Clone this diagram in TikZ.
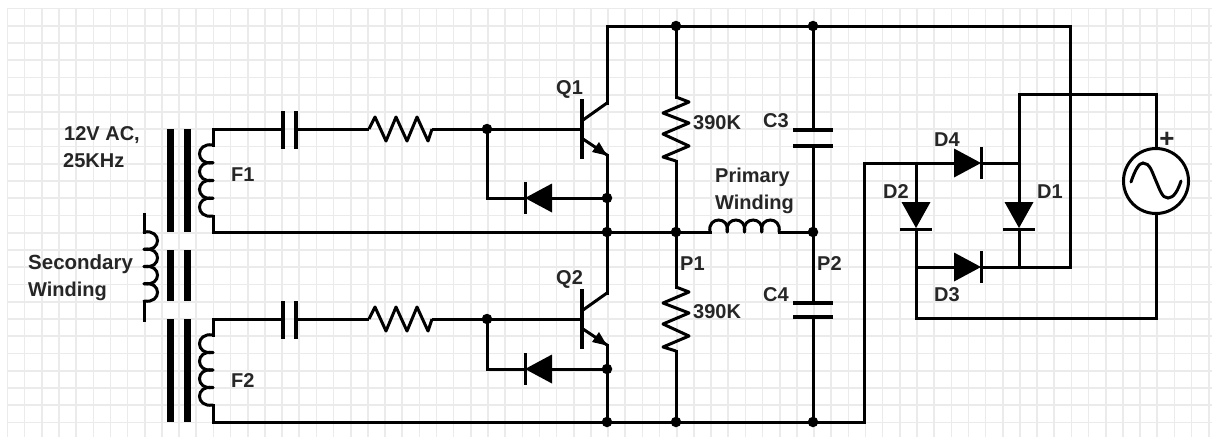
\documentclass[tikz,border=0pt]{standalone}
\usepackage{fontspec}
\setmainfont{Liberation Sans}
\begin{document}
\begin{tikzpicture}[x=1pt,y=-1pt,
  wire/.style={line width=3pt,line join=miter,line cap=rect,black},
  zig/.style={line width=3pt,line join=round,black},
  coilline/.style={line width=3pt,line cap=round,black},
  plate/.style={line width=3.2pt,black},
  core/.style={fill=black,draw=none},
  dot/.style={circle,fill=black,inner sep=0pt,minimum size=10.5pt,outer sep=0pt},
  gridline/.style={draw=black!8,line width=1.6pt},
  lab/.style={anchor=base west,inner sep=0pt,font=\fontsize{20}{20}\selectfont\bfseries,text=black!85},
  blab/.style={lab},
  sourcec/.style={circle,draw=black,line width=3pt,fill=white,inner sep=0pt,outer sep=0pt,minimum size=65pt}
]
\newcommand{\coilV}[4]{% x, y0, pitch, bulge
  \foreach \i in {0,1,2,3}
    \draw[coilline] ({#1},{#2+\i*#3}) .. controls ({#1+#4},{#2+\i*#3-3}) and ({#1+#4},{#2+(\i+1)*#3+3}) .. ({#1},{#2+(\i+1)*#3});}
\newcommand{\coilH}[4]{% x0, y, pitch, bulge
  \foreach \i in {0,1,2,3}
    \draw[coilline] ({#1+\i*#3},{#2}) .. controls ({#1+\i*#3-3},{#2+#4}) and ({#1+(\i+1)*#3+3},{#2+#4}) .. ({#1+(\i+1)*#3},{#2});}
\newcommand{\zigH}[2]{% x0,y
  \draw[zig] ({#1},{#2}) -- ({#1+6},{#2-12}) -- ({#1+17},{#2+12}) -- ({#1+27},{#2-12}) -- ({#1+38},{#2+12}) -- ({#1+48},{#2-12}) -- ({#1+59},{#2+12}) -- ({#1+63},{#2});}
\newcommand{\zigV}[2]{% x,y0
  \draw[zig] ({#1},{#2}) -- ({#1+13},{#2+5}) -- ({#1-13},{#2+16}) -- ({#1+13},{#2+26}) -- ({#1-13},{#2+37}) -- ({#1+13},{#2+49}) -- ({#1-13},{#2+60}) -- ({#1},{#2+64});}
\newcommand{\npn}[2]{% name, yoff
  \coordinate (#1b) at (582,{129+#2});
  \coordinate (#1c) at (607,{103+#2});
  \coordinate (#1e) at (607,{155+#2});
  \draw[plate] (582,{99+#2}) -- (582,{159+#2});
  \draw[wire,line cap=butt] (583,{120+#2}) -- (#1c);
  \draw[wire,line cap=butt] (583,{139+#2}) -- (#1e);
  \fill (607,{155.5+#2}) -- (599,{142+#2}) -- (592,{152+#2}) -- cycle;}
\newcommand{\diodeR}[2]{% base x, y : triangle pointing right
  \fill ({#1},{#2-14.5}) -- ({#1+27},{#2}) -- ({#1},{#2+14.5}) -- cycle;
  \draw[plate,line width=3pt] ({#1+27},{#2-16}) -- ({#1+27},{#2+16});}
\newcommand{\diodeL}[2]{% base x, y : triangle pointing left, bar left
  \fill ({#1},{#2-14.5}) -- ({#1-27},{#2}) -- ({#1},{#2+14.5}) -- cycle;
  \draw[plate,line width=3pt] ({#1-27},{#2-16}) -- ({#1-27},{#2+16});}
\newcommand{\diodeD}[2]{% x, base y : triangle pointing down
  \fill ({#1-14.5},{#2}) -- ({#1},{#2+26}) -- ({#1+14.5},{#2}) -- cycle;
  \draw[plate,line width=3pt] ({#1-16},{#2+27}) -- ({#1+16},{#2+27});}
\useasboundingbox (0,0) rectangle (1212,437);
\fill[white] (0,0) rectangle (1212,437);
% grid
\foreach \k in {0,...,70} \draw[gridline] ({7.5+\k*17.16},8) -- ({7.5+\k*17.16},437);
\foreach \k in {0,...,24} \draw[gridline] (7,{8.5+\k*17.25}) -- (1212,{8.5+\k*17.25});
% core
\foreach \a in {166.7,183.7} {
  \fill[core] (\a,129.3) rectangle ({\a+6.8},232.3);
  \fill[core] (\a,250) rectangle ({\a+6.8},301.3);
  \fill[core] (\a,318.7) rectangle ({\a+6.8},422);
}
% named points
\coordinate (f1t) at (213,129);
\coordinate (f1c) at (213,145);
\coordinate (f1d) at (213,216);
\coordinate (f1b) at (213,232);
\coordinate (f2t) at (213,319);
\coordinate (f2c) at (213,335);
\coordinate (f2d) at (213,405);
\coordinate (f2b) at (213,422);
\coordinate (s1) at (144,214);
\coordinate (s2) at (144,232);
\coordinate (s3) at (144,301);
\coordinate (s4) at (144,320);
\coordinate (c1a) at (283,129);
\coordinate (c1b) at (296,129);
\coordinate (r1a) at (369,129);
\coordinate (r1b) at (432,129);
\coordinate (c2a) at (283,319);
\coordinate (c2b) at (296,319);
\coordinate (r2a) at (369,319);
\coordinate (r2b) at (432,319);
\npn{q1}{0}
\npn{q2}{190}
\node[dot] (jb1) at (487,129) {};
\node[dot] (jb2) at (487,319) {};
\node[dot] (je1) at (607,198) {};
\node[dot] (je2) at (607,369) {};
\node[dot] (jm1) at (607,232) {};
\node[dot] (jm2) at (676,232) {};
\node[dot] (jm3) at (813,232) {};
\node[dot] (jt1) at (676,26) {};
\node[dot] (jt2) at (813,26) {};
\node[dot] (jo1) at (607,422) {};
\node[dot] (jo2) at (676,422) {};
\node[dot] (jo3) at (813,422) {};
\coordinate (tl) at (607,26);
\coordinate (tr) at (1070,26);
\coordinate (br) at (1070,267);
\coordinate (bl) at (864,422);
\coordinate (bu) at (864,163);
\coordinate (d4a) at (954,163);
\coordinate (d4k) at (981,163);
\coordinate (d3a) at (954,267);
\coordinate (d3k) at (981,267);
\coordinate (n1) at (1019,163);
\coordinate (n1t) at (1019,94);
\coordinate (n2) at (1156,94);
\coordinate (n3) at (916,163);
\coordinate (n4) at (916,267);
\coordinate (n5) at (1019,267);
\coordinate (n6) at (916,318);
\coordinate (n7) at (1156,318);
\coordinate (d2a) at (916,202);
\coordinate (d2k) at (916,229);
\coordinate (d1a) at (1019,202);
\coordinate (d1k) at (1019,229);
\coordinate (lp1) at (710,232);
\coordinate (lp2) at (779,232);
\coordinate (rt1) at (676,97);
\coordinate (rt2) at (676,161);
\coordinate (rb1) at (676,287);
\coordinate (rb2) at (676,351);
\coordinate (c3t) at (813,130);
\coordinate (c3b) at (813,146);
\coordinate (c4t) at (813,303);
\coordinate (c4b) at (813,317);
\coordinate (dq1a) at (552,198);
\coordinate (dq1k) at (525,198);
\coordinate (dq1c) at (487,198);
\coordinate (dq2a) at (552,369);
\coordinate (dq2k) at (525,369);
\coordinate (dq2c) at (487,369);
% wires
\draw[wire] (f1c) -- (f1t) -- (c1a);
\draw[wire] (f2c) -- (f2t) -- (c2a);
\draw[wire] (f1d) -- (f1b) -- (lp1);
\draw[wire] (f2d) -- (f2b) -- (bl) -- (bu) -- (d4a);
\draw[wire] (s1) -- (s2);
\draw[wire] (s3) -- (s4);
\draw[wire,line cap=butt] (c1b) -- (r1a);
\draw[wire,line cap=butt] (c2b) -- (r2a);
\draw[wire,line cap=butt] (r1b) -- (q1b);
\draw[wire,line cap=butt] (r2b) -- (q2b);
\draw[wire] (jb1) -- (dq1c) -- (dq1k);
\draw[wire] (jb2) -- (dq2c) -- (dq2k);
\draw[wire] (dq1a) -- (je1);
\draw[wire] (dq2a) -- (je2);
\draw[wire] (q1c) -- (tl) -- (tr) -- (br) -- (d3k);
\draw[wire] (q1e) -- (q2c);
\draw[wire] (q2e) -- (jo1);
\draw[wire] (jt1) -- (rt1);
\draw[wire] (rt2) -- (rb1);
\draw[wire] (rb2) -- (jo2);
\draw[wire] (lp2) -- (jm3);
\draw[wire] (jt2) -- (c3t);
\draw[wire] (c3b) -- (c4t);
\draw[wire] (c4b) -- (jo3);
\draw[wire] (d4k) -- (n1);
\draw[wire] (n1t) -- (d1a);
\draw[wire] (d1k) -- (n5);
\draw[wire] (n1t) -- (n2);
\draw[wire] (n3) -- (d2a);
\draw[wire] (d2k) -- (n6) -- (n7);
\draw[wire] (n4) -- (d3a);
\node[sourcec] (src) at (1156,181) {};
\draw[wire,line cap=butt] (n2) -- (src.north);
\draw[wire,line cap=butt] (n7) -- (src.south);
% sine
\draw[line width=3pt,line cap=round] (1131,182) .. controls (1135,170) and (1139,163) .. (1143,163) .. controls (1150,163) and (1152,172) .. (1156,181) .. controls (1160,190) and (1162,198) .. (1168,198) .. controls (1174,198) and (1178,190) .. (1181,181);
% components
\coilV{213}{145}{17.75}{-18}
\coilV{213}{335}{17.5}{-18}
\coilV{144}{232}{17.25}{18}
\coilH{710}{232}{17.25}{-16}
\zigH{369}{129}
\zigH{369}{319}
\zigV{676}{97}
\zigV{676}{287}
\draw[plate] (283,111) -- (283,149);
\draw[plate] (296,111) -- (296,149);
\draw[plate] (283,301) -- (283,339);
\draw[plate] (296,301) -- (296,339);
\draw[plate] (793,130) -- (833,130);
\draw[plate] (793,146) -- (833,146);
\draw[plate] (793,303) -- (833,303);
\draw[plate] (793,317) -- (833,317);
\diodeL{552}{198}
\diodeL{552}{369}
\diodeR{954}{163}
\diodeR{954}{267}
\diodeD{916}{202}
\diodeD{1019}{202}
% labels
\node[blab] (t12v) at (64,140) {12V AC,};
\node[blab] (t25k) at (63,167) {25KHz};
\node[blab,font=\fontsize{20.5}{20.5}\selectfont\bfseries] (tsec) at (28,269) {Secondary};
\node[blab] (twin) at (28,296) {Winding};
\node[blab] (tf1) at (231,181) {F1};
\node[blab] (tf2) at (231,387) {F2};
\node[lab] (tq1) at (556,94) {Q1};
\node[lab] (tq2) at (556,284) {Q2};
\node[lab] (tr1) at (693,129) {390K};
\node[lab] (tr2) at (693,318) {390K};
\node[blab] (tpri) at (715,182) {Primary};
\node[blab] (twin2) at (715,209) {Winding};
\node[blab] (tp1) at (680,270) {P1};
\node[blab] (tp2) at (817,270) {P2};
\node[lab] (tc3) at (763,127) {C3};
\node[lab] (tc4) at (763,301) {C4};
\node[lab] (td4) at (934,146) {D4};
\node[lab] (td2) at (883,198) {D2};
\node[lab] (td1) at (1037,198) {D1};
\node[lab] (td3) at (934,301) {D3};
\node[lab,anchor=center,font=\fontsize{26}{26}\selectfont\bfseries] (tplus) at (1167,140) {+};
\end{tikzpicture}
\end{document}
